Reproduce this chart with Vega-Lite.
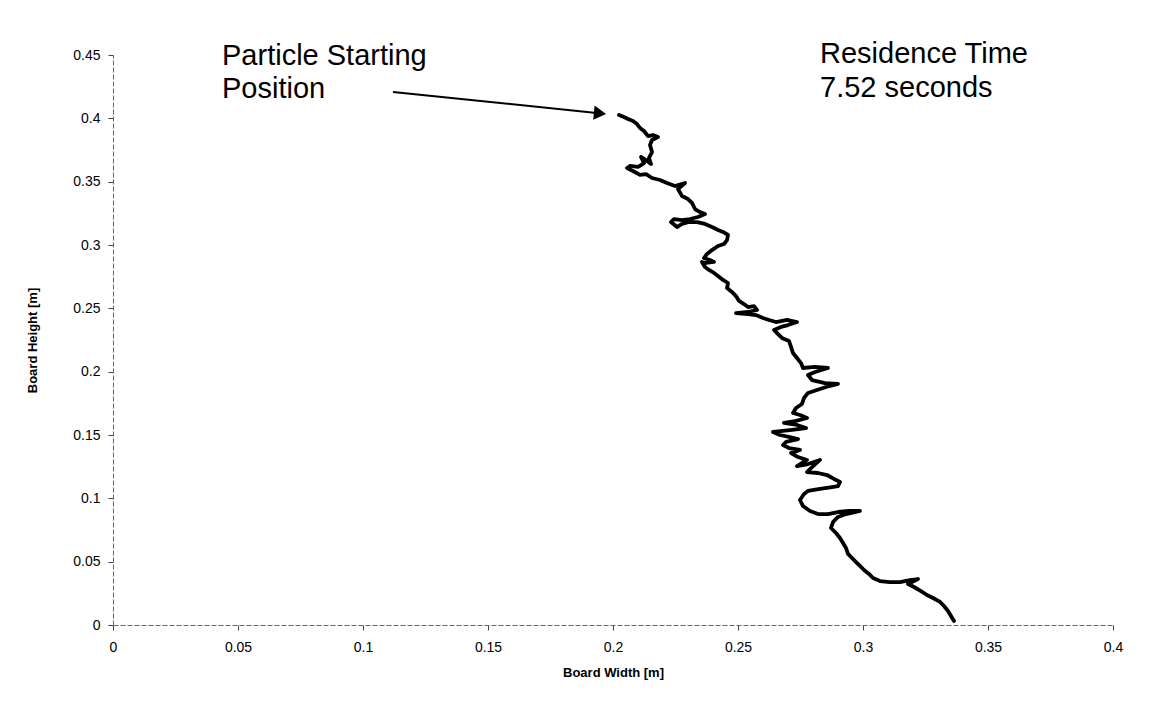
{
  "$schema": "https://vega.github.io/schema/vega-lite/v6.json",
  "width": 1000,
  "height": 570,
  "autosize": {"type": "none"},
  "padding": {"left": 113, "top": 55, "right": 52, "bottom": 95},
  "background": "white",
  "config": {
    "view": {"stroke": null},
    "font": "Liberation Sans",
    "axis": {
      "grid": false,
      "domainColor": "#666",
      "domainWidth": 1,
      "domainDash": [5, 2],
      "tickColor": "#444",
      "tickSize": 5,
      "labelFont": "Liberation Sans",
      "labelFontSize": 14,
      "labelColor": "black",
      "titleFont": "Liberation Sans",
      "titleFontSize": 13,
      "titleFontWeight": "bold",
      "titleColor": "black"
    }
  },
  "datasets": {
    "path": [
      {"i":1,"x":0.2024,"y":0.4026},{"i":2,"x":0.2044,"y":0.4010},{"i":3,"x":0.2060,"y":0.3995},{"i":4,"x":0.2080,"y":0.3979},
      {"i":5,"x":0.2096,"y":0.3955},{"i":6,"x":0.2108,"y":0.3924},{"i":7,"x":0.2124,"y":0.3900},{"i":8,"x":0.2140,"y":0.3860},
      {"i":9,"x":0.2160,"y":0.3868},{"i":10,"x":0.2180,"y":0.3853},{"i":11,"x":0.2156,"y":0.3829},{"i":12,"x":0.2148,"y":0.3789},
      {"i":13,"x":0.2156,"y":0.3734},{"i":14,"x":0.2144,"y":0.3687},{"i":15,"x":0.2152,"y":0.3639},{"i":16,"x":0.2132,"y":0.3671},
      {"i":17,"x":0.2112,"y":0.3695},{"i":18,"x":0.2124,"y":0.3647},{"i":19,"x":0.2100,"y":0.3616},{"i":20,"x":0.2068,"y":0.3624},
      {"i":21,"x":0.2056,"y":0.3608},{"i":22,"x":0.2080,"y":0.3584},{"i":23,"x":0.2108,"y":0.3553},{"i":24,"x":0.2132,"y":0.3560},
      {"i":25,"x":0.2156,"y":0.3529},{"i":26,"x":0.2188,"y":0.3513},{"i":27,"x":0.2216,"y":0.3489},{"i":28,"x":0.2248,"y":0.3466},
      {"i":29,"x":0.2288,"y":0.3489},{"i":30,"x":0.2260,"y":0.3442},{"i":31,"x":0.2276,"y":0.3387},{"i":32,"x":0.2300,"y":0.3363},
      {"i":33,"x":0.2316,"y":0.3332},{"i":34,"x":0.2328,"y":0.3284},{"i":35,"x":0.2348,"y":0.3260},{"i":36,"x":0.2368,"y":0.3245},
      {"i":37,"x":0.2340,"y":0.3221},{"i":38,"x":0.2308,"y":0.3205},{"i":39,"x":0.2276,"y":0.3197},{"i":40,"x":0.2244,"y":0.3205},
      {"i":41,"x":0.2232,"y":0.3181},{"i":42,"x":0.2256,"y":0.3142},{"i":43,"x":0.2276,"y":0.3166},{"i":44,"x":0.2300,"y":0.3181},
      {"i":45,"x":0.2336,"y":0.3181},{"i":46,"x":0.2368,"y":0.3166},{"i":47,"x":0.2396,"y":0.3142},{"i":48,"x":0.2420,"y":0.3118},
      {"i":49,"x":0.2440,"y":0.3103},{"i":50,"x":0.2460,"y":0.3079},{"i":51,"x":0.2456,"y":0.3039},{"i":52,"x":0.2444,"y":0.3008},
      {"i":53,"x":0.2420,"y":0.2992},{"i":54,"x":0.2396,"y":0.2960},{"i":55,"x":0.2376,"y":0.2929},{"i":56,"x":0.2364,"y":0.2897},
      {"i":57,"x":0.2388,"y":0.2882},{"i":58,"x":0.2404,"y":0.2866},{"i":59,"x":0.2372,"y":0.2858},{"i":60,"x":0.2356,"y":0.2866},
      {"i":61,"x":0.2368,"y":0.2826},{"i":62,"x":0.2384,"y":0.2803},{"i":63,"x":0.2404,"y":0.2779},{"i":64,"x":0.2420,"y":0.2755},
      {"i":65,"x":0.2440,"y":0.2724},{"i":66,"x":0.2460,"y":0.2700},{"i":67,"x":0.2456,"y":0.2660},{"i":68,"x":0.2476,"y":0.2629},
      {"i":69,"x":0.2492,"y":0.2597},{"i":70,"x":0.2504,"y":0.2558},{"i":71,"x":0.2524,"y":0.2534},{"i":72,"x":0.2540,"y":0.2510},
      {"i":73,"x":0.2564,"y":0.2518},{"i":74,"x":0.2576,"y":0.2487},{"i":75,"x":0.2540,"y":0.2471},{"i":76,"x":0.2492,"y":0.2463},
      {"i":77,"x":0.2540,"y":0.2455},{"i":78,"x":0.2572,"y":0.2447},{"i":79,"x":0.2600,"y":0.2424},{"i":80,"x":0.2624,"y":0.2408},
      {"i":81,"x":0.2652,"y":0.2392},{"i":82,"x":0.2696,"y":0.2408},{"i":83,"x":0.2736,"y":0.2392},{"i":84,"x":0.2700,"y":0.2368},
      {"i":85,"x":0.2672,"y":0.2353},{"i":86,"x":0.2644,"y":0.2329},{"i":87,"x":0.2660,"y":0.2297},{"i":88,"x":0.2676,"y":0.2266},
      {"i":89,"x":0.2704,"y":0.2242},{"i":90,"x":0.2712,"y":0.2195},{"i":91,"x":0.2720,"y":0.2147},{"i":92,"x":0.2736,"y":0.2108},
      {"i":93,"x":0.2752,"y":0.2068},{"i":94,"x":0.2760,"y":0.2029},{"i":95,"x":0.2808,"y":0.2037},{"i":96,"x":0.2860,"y":0.2029},
      {"i":97,"x":0.2808,"y":0.1997},{"i":98,"x":0.2780,"y":0.1974},{"i":99,"x":0.2796,"y":0.1934},{"i":100,"x":0.2848,"y":0.1910},
      {"i":101,"x":0.2900,"y":0.1903},{"i":102,"x":0.2852,"y":0.1879},{"i":103,"x":0.2816,"y":0.1855},{"i":104,"x":0.2780,"y":0.1832},
      {"i":105,"x":0.2764,"y":0.1792},{"i":106,"x":0.2756,"y":0.1745},{"i":107,"x":0.2732,"y":0.1713},{"i":108,"x":0.2720,"y":0.1674},
      {"i":109,"x":0.2748,"y":0.1658},{"i":110,"x":0.2776,"y":0.1634},{"i":111,"x":0.2728,"y":0.1610},{"i":112,"x":0.2684,"y":0.1595},
      {"i":113,"x":0.2736,"y":0.1579},{"i":114,"x":0.2772,"y":0.1555},{"i":115,"x":0.2708,"y":0.1539},{"i":116,"x":0.2640,"y":0.1524},
      {"i":117,"x":0.2668,"y":0.1500},{"i":118,"x":0.2708,"y":0.1484},{"i":119,"x":0.2740,"y":0.1468},{"i":120,"x":0.2692,"y":0.1445},
      {"i":121,"x":0.2680,"y":0.1421},{"i":122,"x":0.2704,"y":0.1397},{"i":123,"x":0.2748,"y":0.1382},{"i":124,"x":0.2712,"y":0.1358},
      {"i":125,"x":0.2740,"y":0.1326},{"i":126,"x":0.2776,"y":0.1303},{"i":127,"x":0.2736,"y":0.1255},{"i":128,"x":0.2780,"y":0.1271},
      {"i":129,"x":0.2828,"y":0.1303},{"i":130,"x":0.2792,"y":0.1239},{"i":131,"x":0.2776,"y":0.1208},{"i":132,"x":0.2820,"y":0.1200},
      {"i":133,"x":0.2856,"y":0.1184},{"i":134,"x":0.2884,"y":0.1153},{"i":135,"x":0.2908,"y":0.1129},{"i":136,"x":0.2900,"y":0.1097},
      {"i":137,"x":0.2876,"y":0.1089},{"i":138,"x":0.2828,"y":0.1074},{"i":139,"x":0.2780,"y":0.1058},{"i":140,"x":0.2764,"y":0.1034},
      {"i":141,"x":0.2748,"y":0.0987},{"i":142,"x":0.2760,"y":0.0939},{"i":143,"x":0.2788,"y":0.0900},{"i":144,"x":0.2820,"y":0.0876},
      {"i":145,"x":0.2860,"y":0.0876},{"i":146,"x":0.2900,"y":0.0892},{"i":147,"x":0.2944,"y":0.0900},{"i":148,"x":0.2988,"y":0.0900},
      {"i":149,"x":0.2932,"y":0.0876},{"i":150,"x":0.2900,"y":0.0853},{"i":151,"x":0.2880,"y":0.0813},{"i":152,"x":0.2872,"y":0.0766},
      {"i":153,"x":0.2892,"y":0.0726},{"i":154,"x":0.2908,"y":0.0687},{"i":155,"x":0.2920,"y":0.0647},{"i":156,"x":0.2932,"y":0.0608},
      {"i":157,"x":0.2940,"y":0.0561},{"i":158,"x":0.2956,"y":0.0529},{"i":159,"x":0.2972,"y":0.0497},{"i":160,"x":0.2988,"y":0.0466},
      {"i":161,"x":0.3004,"y":0.0434},{"i":162,"x":0.3024,"y":0.0403},{"i":163,"x":0.3040,"y":0.0371},{"i":164,"x":0.3068,"y":0.0347},
      {"i":165,"x":0.3108,"y":0.0339},{"i":166,"x":0.3148,"y":0.0339},{"i":167,"x":0.3188,"y":0.0355},{"i":168,"x":0.3220,"y":0.0363},
      {"i":169,"x":0.3180,"y":0.0324},{"i":170,"x":0.3204,"y":0.0300},{"i":171,"x":0.3232,"y":0.0268},{"i":172,"x":0.3256,"y":0.0237},
      {"i":173,"x":0.3280,"y":0.0213},{"i":174,"x":0.3308,"y":0.0182},{"i":175,"x":0.3324,"y":0.0150},{"i":176,"x":0.3340,"y":0.0111},
      {"i":177,"x":0.3352,"y":0.0071},{"i":178,"x":0.3364,"y":0.0032}
    ],
    "arrow": [{"x": 0.112, "y": 0.4208, "x2": 0.1925, "y2": 0.4044}],
    "head": [{"x": 0.1948, "y": 0.4040}],
    "labels": [
      {"x": 0.0436, "y": 0.4421, "text": "Particle Starting"},
      {"x": 0.0436, "y": 0.4160, "text": "Position"},
      {"x": 0.2828, "y": 0.4437, "text": "Residence Time"},
      {"x": 0.2828, "y": 0.4168, "text": "7.52 seconds"}
    ]
  },
  "layer": [
    {
      "data": {"name": "path"},
      "mark": {"type": "line", "color": "black", "strokeWidth": 3.8, "strokeJoin": "round", "strokeCap": "round"},
      "encoding": {
        "x": {
          "field": "x", "type": "quantitative",
          "scale": {"domain": [0, 0.4], "nice": false, "zero": false},
          "axis": {"values": [0, 0.05, 0.1, 0.15, 0.2, 0.25, 0.3, 0.35, 0.4], "format": ".2~f", "title": "Board Width [m]", "labelPadding": 10, "titlePadding": 12, "labelFlush": false}
        },
        "y": {
          "field": "y", "type": "quantitative",
          "scale": {"domain": [0, 0.45], "nice": false, "zero": false},
          "axis": {"values": [0, 0.05, 0.1, 0.15, 0.2, 0.25, 0.3, 0.35, 0.4, 0.45], "format": ".2~f", "title": "Board Height [m]", "labelPadding": 8, "titlePadding": 33, "labelFlush": false}
        },
        "order": {"field": "i", "type": "quantitative"}
      }
    },
    {
      "data": {"name": "arrow"},
      "mark": {"type": "rule", "color": "black", "strokeWidth": 2},
      "encoding": {
        "x": {"field": "x", "type": "quantitative"},
        "y": {"field": "y", "type": "quantitative"},
        "x2": {"field": "x2"},
        "y2": {"field": "y2"}
      }
    },
    {
      "data": {"name": "head"},
      "mark": {"type": "point", "shape": "triangle-right", "filled": true, "color": "black", "opacity": 1, "size": 200, "angle": 5.8},
      "encoding": {
        "x": {"field": "x", "type": "quantitative"},
        "y": {"field": "y", "type": "quantitative"}
      }
    },
    {
      "data": {"name": "labels"},
      "mark": {"type": "text", "align": "left", "baseline": "alphabetic", "fontSize": 29, "font": "Liberation Sans", "color": "black"},
      "encoding": {
        "x": {"field": "x", "type": "quantitative"},
        "y": {"field": "y", "type": "quantitative"},
        "text": {"field": "text"}
      }
    }
  ]
}
